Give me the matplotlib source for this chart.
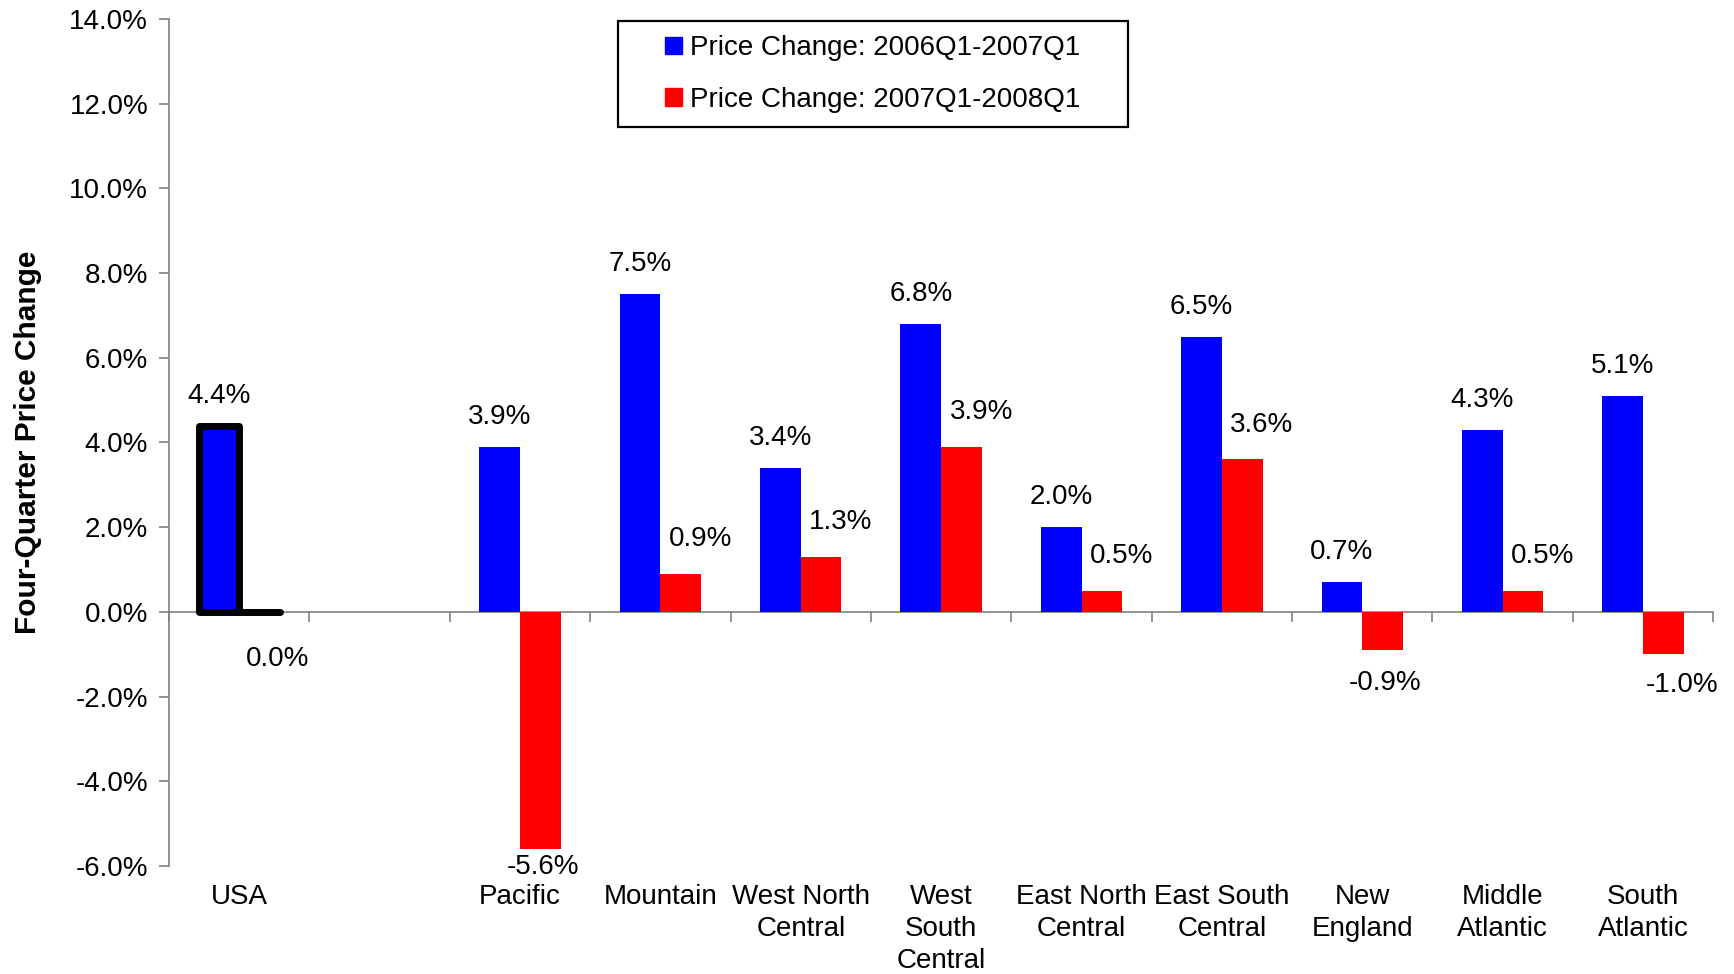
import matplotlib
matplotlib.use("Agg")
import matplotlib.pyplot as plt
from matplotlib.patches import Patch, Rectangle
from matplotlib.ticker import FuncFormatter, MultipleLocator, FixedLocator

plt.rcParams["font.family"] = ["Liberation Sans", "DejaVu Sans"]

# Data (percent)
regions = ["USA", "", "Pacific", "Mountain", "West North\nCentral",
           "West\nSouth\nCentral", "East North\nCentral", "East South\nCentral",
           "New\nEngland", "Middle\nAtlantic", "South\nAtlantic"]
change_06_07 = [4.4, None, 3.9, 7.5, 3.4, 6.8, 2.0, 6.5, 0.7, 4.3, 5.1]
change_07_08 = [0.0, None, -5.6, 0.9, 1.3, 3.9, 0.5, 3.6, -0.9, 0.5, -1.0]
series_names = ["Price Change: 2006Q1-2007Q1", "Price Change: 2007Q1-2008Q1"]

BLUE = "#0000FF"
RED = "#FF0000"
FS = 20

fig = plt.figure(figsize=(17.34, 9.74), dpi=100)
ax = fig.add_axes([0.0975, 0.111, 0.8905, 0.8695])

w = 0.29
for i, (b, r) in enumerate(zip(change_06_07, change_07_08)):
    if b is None:
        continue
    usa = regions[i] == "USA"
    ec = "black" if usa else "none"
    lw = 5 if usa else 0
    for x0, v, col in ((i - w, b, BLUE), (i, r, RED)):
        bar = ax.bar(x0, v, width=w, align="edge", color=col, edgecolor=ec,
                     linewidth=lw, zorder=3)[0]
        bar.set_joinstyle("round")
        bar.set_capstyle("round")

    # value labels
    ax.annotate(f"{b:.1f}%", (i - w / 2, b), xytext=(0, 21.6),
                textcoords="offset points", ha="center", va="center",
                fontsize=FS)
    if r > 0:
        dx, dy = 0.14, 25
    elif usa:
        dx, dy = 0.13, -34
    elif r <= -5:
        dx, dy = 0.02, -13
    elif r <= -1.0:
        dx, dy = 0.13, -22
    else:
        dx, dy = 0.02, -23.5
    ax.annotate(f"{r:.1f}%", (i + w / 2 + dx, r), xytext=(0, dy),
                textcoords="offset points", ha="center", va="center",
                fontsize=FS)

ax.set_xlim(-0.5, len(regions) - 0.5)
ax.set_ylim(-6, 14)
ax.yaxis.set_major_locator(MultipleLocator(2))
ax.yaxis.set_major_formatter(FuncFormatter(lambda v, p: f"{v:.1f}%"))
ax.tick_params(axis="y", labelsize=FS, length=7, width=1.2, color="#808080",
               pad=8)

# x axis line at zero with ticks on slot boundaries
ax.spines["bottom"].set_position(("data", 0))
ax.spines["bottom"].set_color("#808080")
ax.spines["bottom"].set_linewidth(1.2)
ax.spines["left"].set_color("#808080")
ax.spines["left"].set_linewidth(1.2)
ax.spines["top"].set_visible(False)
ax.spines["right"].set_visible(False)
ax.xaxis.set_major_locator(FixedLocator([i - 0.5 for i in range(len(regions) + 1)]))
ax.tick_params(axis="x", direction="out", length=7, width=1.2, color="#808080",
               labelbottom=False)

for i, name in enumerate(regions):
    ax.text(i, -0.021, name, transform=ax.get_xaxis_transform(), ha="center",
            va="top", fontsize=FS, linespacing=1.3)

ax.set_ylabel("Four-Quarter Price Change", fontsize=21.5, fontweight="bold")
ax.yaxis.set_label_coords(-0.082, 0.5)

# legend with a hand-placed frame
fig.patches.append(Rectangle((0.3564, 0.8696), 0.294, 0.1088,
                             transform=fig.transFigure, fill=False,
                             edgecolor="black", linewidth=1.6))
handles = [Patch(color=BLUE), Patch(color=RED)]
fig.legend(handles, series_names, loc="center", bbox_to_anchor=(0.5034, 0.924),
           frameon=False, fontsize=FS, handlelength=0.6, handleheight=0.6,
           handletextpad=0.3, labelspacing=0.92)

fig.savefig("out.png", dpi=100)
